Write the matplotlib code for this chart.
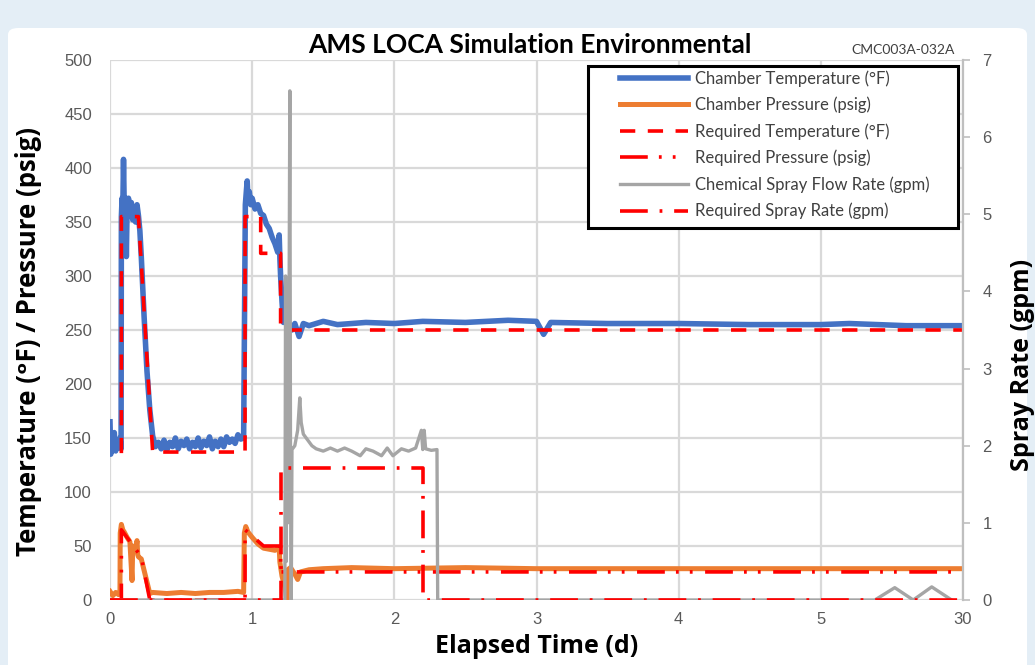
import numpy as np
import matplotlib
matplotlib.use("Agg")
from matplotlib import pyplot as plt
from matplotlib.patches import FancyBboxPatch, Rectangle

plt.rcParams["lines.scale_dashes"] = False

# chamber temperature (F), time in days
temp_t = [0, 0.005, 0.01, 0.02, 0.03, 0.04, 0.05, 0.06, 0.07, 0.078,
          0.08, 0.085, 0.09, 0.095, 0.1, 0.105, 0.11, 0.115, 0.12, 0.13, 0.14, 0.15, 0.16,
          0.17, 0.18, 0.19, 0.2, 0.21, 0.22, 0.24, 0.26, 0.28, 0.3, 0.32,
          0.34, 0.36, 0.38, 0.4, 0.42, 0.44, 0.46, 0.48, 0.5, 0.52, 0.54, 0.56, 0.58,
          0.6, 0.62, 0.64, 0.66, 0.68, 0.7, 0.72, 0.74, 0.76, 0.78, 0.8, 0.82, 0.84,
          0.86, 0.88, 0.9, 0.92, 0.94,
          0.952, 0.96, 0.965, 0.97, 0.98, 0.99, 1.0, 1.02, 1.04, 1.06, 1.08, 1.1, 1.12,
          1.14, 1.16, 1.18, 1.19, 1.195, 1.2, 1.21, 1.22,
          1.25, 1.28, 1.3, 1.33, 1.36, 1.4, 1.5, 1.6, 1.8, 2.0, 2.2, 2.5, 2.8, 3.0,
          3.05, 3.1, 3.5, 4.0, 4.5, 5.0, 10, 20, 30]
temp_v = [165, 135, 150, 140, 155, 138, 148, 142, 150, 140,
          355, 372, 360, 408, 365, 352, 372, 318, 360, 372, 356, 368, 352,
          364, 350, 366, 356, 342, 318, 262, 212, 176, 152, 142,
          146, 140, 148, 139, 146, 142, 150, 140, 147, 143, 149, 140, 146,
          142, 150, 141, 147, 143, 151, 140, 147, 142, 149, 142, 151, 146,
          149, 145, 153, 149, 150,
          366, 380, 388, 372, 378, 366, 372, 362, 366, 358, 356, 348, 344,
          336, 330, 322, 338, 316, 300, 276, 257,
          258, 250, 256, 244, 256, 254, 258, 255, 257, 256, 258, 257, 259, 258,
          246, 257, 256, 256, 255, 255, 256, 254, 254]

# chamber pressure (psig)
pres_t = [0, 0.02, 0.04, 0.06, 0.07, 0.072, 0.08, 0.09, 0.1, 0.12, 0.14, 0.15, 0.155,
          0.16, 0.18, 0.19, 0.195, 0.2, 0.22, 0.25, 0.28,
          0.3, 0.4, 0.5, 0.6, 0.7, 0.8, 0.9, 0.94,
          0.945, 0.955, 0.97, 1.0, 1.04, 1.08, 1.12, 1.16, 1.19, 1.195, 1.21, 1.23, 1.245,
          1.25, 1.27, 1.3, 1.32, 1.34, 1.4, 1.5, 1.7, 2.0, 2.5, 3.0, 4.0, 5.0, 30]
pres_v = [8, 4, 7, 5, 6, 62, 70, 65, 63, 58, 54, 30, 18,
          50, 45, 55, 42, 40, 38, 22, 6,
          7, 6, 7, 6, 7, 7, 8, 7,
          62, 68, 63, 58, 52, 48, 47, 46, 48, 35, 22, 12, 0,
          28, 30, 24, 19, 26, 28, 29, 30, 29, 30, 29, 29, 29, 29]

# required temperature (F)
req_temp_t = [0.08, 0.08, 0.2, 0.3, 0.95, 0.95, 1.06, 1.06, 1.2, 1.2, 30]
req_temp_v = [136, 355, 355, 137, 137, 355, 355, 321, 321, 250, 250]

# required pressure (psig)
req_pres_t = [0, 0.08, 0.08, 0.22, 0.28, 0.95, 0.95, 1.08, 1.2, 1.2, 30]
req_pres_v = [0, 0, 65, 40, 0, 0, 65, 50, 50, 26, 26]

# chemical spray flow rate (gpm)
spray_t = [0, 1.23, 1.235, 1.24, 1.245, 1.25, 1.26, 1.265, 1.27, 1.275,
           1.28, 1.3, 1.32, 1.335, 1.345, 1.36, 1.38, 1.42, 1.45, 1.5, 1.55, 1.6,
           1.65, 1.7, 1.76, 1.8, 1.85, 1.91, 1.95, 1.99, 2.05, 2.1, 2.15, 2.19,
           2.2, 2.21, 2.22, 2.26, 2.3, 2.305, 14.5, 18, 21.25, 24.5, 28]
spray_v = [0, 0, 4.2, 0.5, 4.1, 1.0, 4.0, 6.6, 1.5, 0,
           1.95, 2.0, 2.2, 2.62, 2.3, 2.15, 2.1, 2.0, 1.96, 1.93, 1.97, 1.93,
           1.97, 1.93, 1.87, 1.96, 1.93, 1.87, 1.97, 1.87, 1.96, 1.93, 1.97, 2.2,
           1.95, 2.2, 1.96, 1.94, 1.95, 0, 0, 0.16, 0, 0.17, 0]

# required spray rate (gpm)
req_spray_t = [0, 1.2, 1.2, 2.2, 2.2, 30]
req_spray_v = [0, 0, 1.71, 1.71, 0, 0]

x_ticks = [0, 1, 2, 3, 4, 5, 30]
left_ticks = list(range(0, 501, 50))
right_ticks = list(range(0, 8))


def fwd(t):
    t = np.asarray(t, dtype=float)
    return np.where(t <= 5, t, 5 + (t - 5) / 25)


def inv(u):
    u = np.asarray(u, dtype=float)
    return np.where(u <= 5, u, 5 + (u - 5) * 25)


fig = plt.figure(figsize=(10.35, 6.65), dpi=100, facecolor="#E4EEF6")
panel = FancyBboxPatch((8 / 1035, -0.05), 1019 / 1035, 1 - 28 / 665 + 0.05,
                       boxstyle="round,pad=0,rounding_size=0.01",
                       transform=fig.transFigure, facecolor="white", edgecolor="none",
                       zorder=-10)
fig.patches.append(panel)

ax = fig.add_axes([110 / 1035, 65 / 665, 853 / 1035, 540 / 665])
ax.set_facecolor("none")
ax.set_xscale("function", functions=(fwd, inv))
ax2 = ax.twinx()

ax.plot(temp_t, temp_v, color="#4472C4", lw=4, label="Chamber Temperature (°F)")
ax.plot(pres_t, pres_v, color="#ED7D31", lw=3.6, label="Chamber Pressure (psig)")
ax.plot(req_temp_t, req_temp_v, color="#FF0000", lw=2.6, dashes=(11, 9),
        label="Required Temperature (°F)")
ax.plot(req_pres_t, req_pres_v, color="#FF0000", lw=2.6, dashes=(20, 8, 2, 8, 2, 9),
        label="Required Pressure (psig)")
ax2.plot(spray_t, spray_v, color="#A5A5A5", lw=2.4, label="Chemical Spray Flow Rate (gpm)")
ax2.plot(req_spray_t, req_spray_v, color="#FF0000", lw=2.6, dashes=(20, 8.5, 2, 8.5),
         label="Required Spray Rate (gpm)")

ax.set_xlim(0, 30)
ax.set_ylim(0, 500)
ax2.set_ylim(0, 7)
ax.set_xticks(x_ticks)
ax.set_xticklabels([str(v) for v in x_ticks])
ax.set_yticks(left_ticks)
ax2.set_yticks(right_ticks)

ax.grid(True, color="#D9D9D9", lw=1.6)
ax.set_axisbelow(True)
for sp in ax.spines.values():
    sp.set_visible(False)
for name, sp in ax2.spines.items():
    sp.set_visible(name == "right")
ax2.spines["right"].set_color("#BFBFBF")
ax2.spines["right"].set_linewidth(1.6)

tick_font = dict(family=["Liberation Sans", "DejaVu Sans"], size=12)
ax.tick_params(axis="both", length=0, labelcolor="#595959")
ax.tick_params(axis="y", pad=13)
ax.tick_params(axis="x", pad=9)
ax2.tick_params(axis="y", length=5, width=1.2, color="#BFBFBF", labelcolor="#595959", pad=9)
for lab in ax.get_xticklabels() + ax.get_yticklabels() + ax2.get_yticklabels():
    lab.set_fontproperties(tick_font)

bold = dict(family=["Open Sans", "DejaVu Sans"], size=18, weight="bold")
ax.set_xlabel("Elapsed Time (d)", fontdict=bold, labelpad=5)
ax.set_ylabel("Temperature (ᵒF) / Pressure (psig)", fontdict=dict(bold, size=18.5))
ax2.set_ylabel("Spray Rate (gpm)", fontdict=bold)
ax.yaxis.set_label_coords(-0.0797, 0.478)
ax2.yaxis.set_label_coords(1.055, 0.435)

fig.text(0.512, 1 - 45 / 665, "AMS LOCA Simulation Environmental",
         ha="center", va="center", family="Lato", fontsize=19, weight="bold")
fig.text(955 / 1035, 1 - 50 / 665, "CMC003A-032A", ha="right", va="center",
         family="Lato", fontsize=10, color="#404040")

# legend box drawn separately so its size matches the reference frame
box = Rectangle((588 / 1035, 1 - 228 / 665), 370 / 1035, 162 / 665,
                transform=fig.transFigure, facecolor="white", edgecolor="black",
                lw=2.2, zorder=4)
ax2.add_artist(box)
h1, l1 = ax.get_legend_handles_labels()
h2, l2 = ax2.get_legend_handles_labels()
leg = ax2.legend(h1 + h2, l1 + l2, loc="upper left",
                 bbox_to_anchor=(620 / 1035, 1 - 70 / 665), bbox_transform=fig.transFigure,
                 prop=dict(family="Lato", size=12), handlelength=4.1, handletextpad=0.4,
                 frameon=False, borderpad=0, labelspacing=0.6, borderaxespad=0)
leg.set_zorder(5)
for t in leg.get_texts():
    t.set_color("#404040")

fig.savefig("out.png", dpi=100, facecolor=fig.get_facecolor())
